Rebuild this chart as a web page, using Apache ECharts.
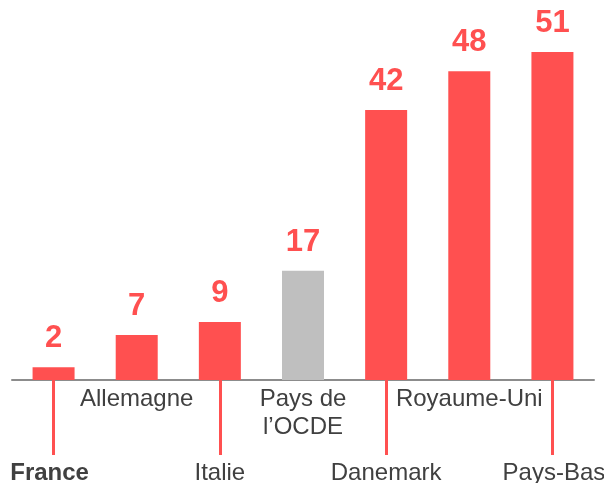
<!DOCTYPE html>
<html><head><meta charset="utf-8">
<script src="https://cdn.jsdelivr.net/npm/echarts@6/dist/echarts.min.js"></script>
<style>html,body{margin:0;padding:0;background:#fff}#c{width:604px;height:483px}</style>
</head><body><div id="c"></div>
<script>
const categories = ['France', 'Allemagne', 'Italie', 'Pays de\nl’OCDE', 'Danemark', 'Royaume-Uni', 'Pays-Bas'];
const values = [2, 7, 9, 17, 42, 48, 51];
const highlightIndex = 3;
const boldIndex = 0;
const red = '#FF5050', gray = '#BFBFBF';
const FF = '"Liberation Sans", Arial, sans-serif';
const chart = echarts.init(document.getElementById('c'));
const lowStyle = (extra) => Object.assign({fontSize: 24, color: '#404040', lineHeight: 28, fontFamily: FF}, extra);
chart.setOption({
  animation: false,
  grid: {left: 12, right: 10, top: 52, bottom: 103, containLabel: false, outerBoundsMode: 'none'},
  xAxis: {
    type: 'category', data: categories,
    axisLine: {lineStyle: {color: '#8c8c8c', width: 2}},
    axisTick: {show: true, alignWithLabel: true, length: 75, interval: (i) => i % 2 === 0,
      lineStyle: {color: red, width: 3}},
    axisLabel: {
      interval: 0, margin: 5, color: '#404040', fontSize: 24, fontFamily: FF,
      lineHeight: 28,
      hideOverlap: false,
      formatter: (v, i) => {
        if (i % 2 === 0) {
          const s = i === boldIndex ? 'lb' : (i === categories.length - 1 ? 'lr' : 'l');
          return '{sp| }\n{' + s + '|' + v + '}';
        }
        return v;
      },
      rich: {
        sp: {fontSize: 10, lineHeight: 74, fontFamily: FF},
        l: lowStyle({}),
        lr: lowStyle({padding: [0, 0, 0, 3]}),
        lb: lowStyle({fontWeight: 'bold', padding: [0, 8, 0, 0]})
      }
    }
  },
  yAxis: {type: 'value', min: 0, max: 51, show: false, splitLine: {show: false}},
  series: [{
    type: 'bar', barWidth: 42,
    data: values.map((v, i) => ({value: v, itemStyle: {color: i === highlightIndex ? gray : red}})),
    label: {show: true, position: 'top', distance: 13, color: red, fontSize: 31, fontWeight: 'bold',
      fontFamily: FF}
  }]
});
</script></body></html>
